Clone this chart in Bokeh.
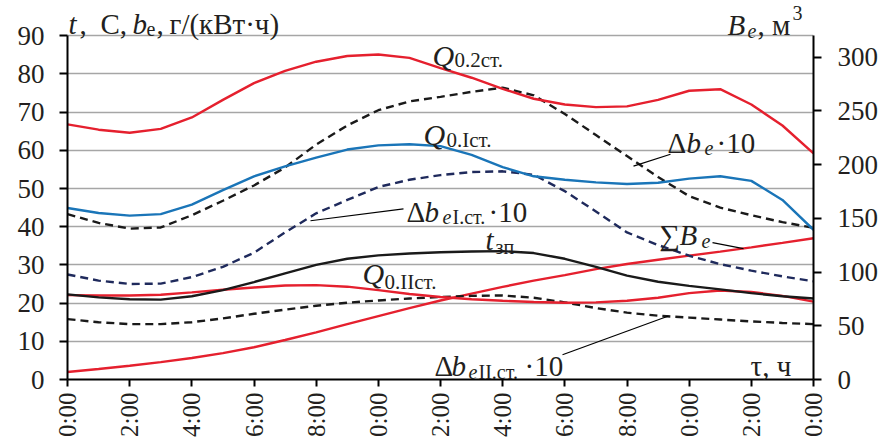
import math
from bokeh.plotting import figure
from bokeh.models import Range1d, LinearAxis, FixedTicker, Label
from bokeh.embed import file_html
from bokeh.resources import INLINE

# ---------------- data ----------------
hours = list(range(25))
x_ticks = list(range(0, 25, 2))
x_tick_labels = ["0:00", "2:00", "4:00", "6:00", "8:00", "0:00", "2:00",
                 "4:00", "6:00", "8:00", "0:00", "2:00", "0:00"]
left_ticks = list(range(0, 91, 10))
right_ticks = list(range(0, 301, 50))

q02 = [66.8, 65.4, 64.6, 65.6, 68.6, 73.2, 77.6, 80.8, 83.2, 84.7, 85.1, 84.2,
       81.5, 79.0, 76.1, 73.5, 72.0, 71.3, 71.5, 73.2, 75.6, 76.0, 72.0, 66.5, 59.2]
q0I = [44.9, 43.6, 42.9, 43.3, 45.8, 49.6, 53.2, 55.8, 58.1, 60.2, 61.3, 61.6,
       61.1, 58.8, 55.6, 53.2, 52.3, 51.6, 51.2, 51.5, 52.6, 53.2, 52.0, 47.0, 39.2]
dbe = [43.3, 41.0, 39.5, 39.8, 43.0, 46.8, 50.8, 55.5, 61.5, 66.5, 70.5, 72.8,
       74.0, 75.3, 76.4, 74.4, 69.5, 64.0, 58.5, 53.0, 48.0, 45.0, 43.0, 41.2, 39.7]
dbeI = [27.5, 25.9, 25.0, 25.1, 26.8, 29.5, 33.2, 38.5, 43.5, 47.0, 50.4, 52.3,
        53.5, 54.3, 54.5, 53.6, 49.3, 44.0, 38.5, 35.2, 32.4, 30.2, 28.5, 27.0, 25.7]
tzp = [22.3, 21.5, 21.0, 20.9, 21.8, 23.4, 25.5, 27.8, 30.0, 31.6, 32.5, 33.0,
       33.3, 33.5, 33.6, 33.1, 31.6, 29.5, 27.2, 25.6, 24.5, 23.6, 22.6, 21.8, 21.2]
q0II = [22.1, 22.0, 22.0, 22.2, 22.8, 23.5, 24.1, 24.6, 24.7, 24.3, 23.4, 22.4,
        21.6, 21.0, 20.6, 20.3, 20.1, 20.2, 20.6, 21.4, 22.6, 23.3, 22.9, 21.9, 20.4]
dbeII = [15.8, 15.0, 14.5, 14.5, 15.0, 16.0, 17.2, 18.3, 19.3, 20.1, 20.7, 21.2,
         21.6, 21.9, 22.0, 21.4, 20.2, 18.7, 17.5, 16.7, 16.2, 15.7, 15.2, 14.8, 14.5]
sumB = [7.0, 9.8, 12.8, 16.2, 20.0, 24.6, 30.0, 36.8, 43.8, 51.5, 59.0, 66.5,
        73.5, 80.0, 86.2, 92.0, 97.2, 102.8, 107.5, 111.5, 115.3, 119.0, 123.0, 127.2, 131.5]

# ---------------- styling ----------------
FONT = "Liberation Serif"
TXT = "#231f20"
RED = "#e5202e"
BLUE = "#1a75b8"
NAVY = "#1f2a5c"
BLK = "#1a1a1a"
TICK_FS = "27px"
MAIN_FS = "29px"
SUB_FS = "20px"
QSUB_FS = "21px"
Q_FS = "30px"

W, H = 886, 439
FRAME_L, FRAME_R, FRAME_B = 67, 813, 382     # pixel edges of the frame
Y90_PX = 35.5                                # pixel row of the value 90
PX_PER_UNIT = (FRAME_B - Y90_PX) / 90.0
Y_TOP = FRAME_B / PX_PER_UNIT                # frame reaches the top of the canvas
B_TOP = Y_TOP * 320.0 / 90.0

p = figure(width=W, height=H,
           x_range=Range1d(0, 24), y_range=Range1d(0, Y_TOP),
           output_backend="svg", toolbar_location=None,
           min_border_left=FRAME_L, min_border_right=W - FRAME_R,
           min_border_top=0, min_border_bottom=H - FRAME_B)
p.extra_y_ranges = {"B": Range1d(0, B_TOP)}
p.outline_line_color = None
p.background_fill_color = "white"
p.border_fill_color = "white"

p.xgrid.visible = False
p.ygrid.ticker = FixedTicker(ticks=left_ticks)
p.ygrid.grid_line_color = "#a6a6a6"
p.ygrid.grid_line_width = 1.6


def style_axis(ax, standoff, fs=TICK_FS):
    ax.axis_line_color = "black"
    ax.axis_line_width = 2
    ax.major_tick_line_color = "black"
    ax.major_tick_line_width = 2
    ax.major_tick_out = 8
    ax.major_tick_in = 0
    ax.minor_tick_line_color = None
    ax.major_label_text_font = FONT
    ax.major_label_text_font_size = fs
    ax.major_label_text_color = TXT
    ax.major_label_standoff = standoff


yl = p.yaxis[0]
yl.ticker = FixedTicker(ticks=left_ticks)
yl.bounds = (0, 90)
style_axis(yl, 15)

yr = LinearAxis(y_range_name="B", ticker=FixedTicker(ticks=right_ticks),
                bounds=(0, 320))
style_axis(yr, 16)
p.add_layout(yr, "right")

xa = p.xaxis[0]
xa.ticker = FixedTicker(ticks=x_ticks)
xa.major_label_overrides = {t: lab for t, lab in zip(x_ticks, x_tick_labels)}
xa.major_label_orientation = math.pi / 2
style_axis(xa, 6, "25px")
xa.major_tick_out = 7

# ---------------- series ----------------
LW = 2.4
p.line(hours, sumB, y_range_name="B", line_color=RED, line_width=LW)
p.line(hours, dbeII, line_color=BLK, line_width=LW, line_dash="8 5")
p.line(hours, q0II, line_color=RED, line_width=LW)
p.line(hours, tzp, line_color=BLK, line_width=LW)
p.line(hours, dbeI, line_color=NAVY, line_width=LW, line_dash="8 5")
p.line(hours, dbe, line_color=BLK, line_width=LW, line_dash="8 5")
p.line(hours, q0I, line_color=BLUE, line_width=LW)
p.line(hours, q02, line_color=RED, line_width=LW)


# ---------------- annotations (positions in canvas pixels) ----------------
BASE_SHIFT = -7   # rendered baseline sits lower than the anchor


def dx(px):
    return (px - FRAME_L) * 24.0 / (FRAME_R - FRAME_L)


def dy(py):
    return (FRAME_B - py) / PX_PER_UNIT


pieces = [
    # text, x, baseline y, size, style
    ("t", 68, 31, MAIN_FS, "italic"),
    (",", 79, 31, MAIN_FS, "normal"),
    ("C,", 100, 31, MAIN_FS, "normal"),
    ("b", 132, 31, MAIN_FS, "italic"),
    ("e", 146, 36, SUB_FS, "normal"),
    (",", 156, 31, MAIN_FS, "normal"),
    ("г/(кВт·ч)", 169, 31, MAIN_FS, "normal"),
    ("B", 727, 32, MAIN_FS, "italic"),
    ("e", 747, 38, SUB_FS, "italic"),
    (", м", 757, 32, MAIN_FS, "normal"),
    ("3", 792, 20, SUB_FS, "normal"),
    ("Q", 432, 62, Q_FS, "italic"),
    ("0.2ст.", 454, 67, QSUB_FS, "normal"),
    ("Q", 423, 142, Q_FS, "italic"),
    ("0.Iст.", 446, 148, QSUB_FS, "normal"),
    ("Δ", 667, 151, MAIN_FS, "normal"),
    ("b", 686, 151, MAIN_FS, "italic"),
    ("e", 704, 156, SUB_FS, "italic"),
    ("·10", 716, 151, MAIN_FS, "normal"),
    ("Δ", 406, 220, MAIN_FS, "normal"),
    ("b", 424, 220, MAIN_FS, "italic"),
    ("e", 442, 225, SUB_FS, "italic"),
    ("I.ст.", 452, 225, SUB_FS, "normal"),
    ("·10", 488, 220, MAIN_FS, "normal"),
    ("t", 485, 248, MAIN_FS, "italic"),
    ("зп", 495, 255, SUB_FS, "normal"),
    ("Q", 362, 282, Q_FS, "italic"),
    ("0.IIст.", 384, 291, QSUB_FS, "normal"),
    ("∑", 659, 243, MAIN_FS, "normal"),
    ("B", 679, 243, MAIN_FS, "italic"),
    ("e", 701, 249, SUB_FS, "italic"),
    ("Δ", 434, 375, MAIN_FS, "normal"),
    ("b", 451, 375, MAIN_FS, "italic"),
    ("e", 468, 381, SUB_FS, "italic"),
    ("II.ст.", 478, 381, SUB_FS, "normal"),
    ("·10", 524, 375, MAIN_FS, "normal"),
    ("τ, ч", 750, 375, MAIN_FS, "normal"),
]
for text, px, py, fs, style in pieces:
    p.add_layout(Label(x=dx(px), y=dy(py + BASE_SHIFT), text=text,
                       text_font=FONT, text_font_size=fs,
                       text_font_style=style, text_color=TXT,
                       text_baseline="alphabetic", text_align="left"))

leaders = [((633, 167), (670, 155)),
           ((310, 222), (403, 210)),
           ((712, 244), (743, 250)),
           ((562, 357), (668, 318))]
p.segment(x0=[dx(a[0]) for a, b in leaders], y0=[dy(a[1]) for a, b in leaders],
          x1=[dx(b[0]) for a, b in leaders], y1=[dy(b[1]) for a, b in leaders],
          line_color="black", line_width=1.2)

open("out.html", "w").write(file_html(p, INLINE))
